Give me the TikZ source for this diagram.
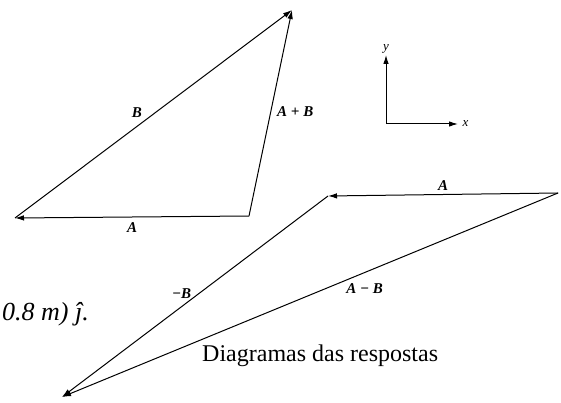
\documentclass[tikz,border=0pt]{standalone}
\usepackage{fontspec}
\setmainfont{Liberation Serif}
\usetikzlibrary{arrows.meta}

\begin{document}
\begin{tikzpicture}[
    x=1pt, y=-1pt,
    vec/.style={draw, line width=1pt, -{Latex[length=9pt, width=5.5pt]}},
    vlabel/.style={font=\fontsize{15}{17}\selectfont\bfseries\itshape, inner sep=2pt},
    axlabel/.style={font=\fontsize{13}{15}\selectfont\itshape, inner sep=1pt},
    caption/.style={font=\fontsize{24}{28}\selectfont, inner sep=0pt}
]
\useasboundingbox (0,0) rectangle (561,403);

% A + B
\coordinate (s0) at (249,216);
\coordinate (s1) at (15,218);
\coordinate (s2) at (292,10);
\draw[vec] (s0) -- (s1) node[vlabel, pos=0.5, below=3pt] {A};
\draw[vec] (s1) -- (s2) node[vlabel, pos=0.44, above=6pt] {B};
\draw[vec] (s0) -- (s2) node[vlabel, pos=0.505, right=4pt] {A + B};

% axes
\coordinate (o) at (386,124);
\coordinate (ytip) at (386,55);
\coordinate (xtip) at (458,124);
\draw[vec] (o) -- (ytip) node[axlabel, above] {y};
\draw[vec] (o) -- (xtip) node[axlabel, right=3pt] {x};

% A - B
\coordinate (d0) at (558,193);
\coordinate (d1) at (328,196);
\coordinate (d2) at (62,397);
\draw[vec] (d0) -- (d1) node[vlabel, pos=0.5, above=2pt] {A};
\draw[vec] (d1) -- (d2) node[vlabel, pos=0.55, above=6pt] {−B};
\draw[vec] (d0) -- (d2) node[vlabel, pos=0.39, below=9pt] {A − B};

% texts
\node[caption, anchor=base west, font=\fontsize{26}{30}\selectfont\itshape] (frag) at (2,320) {0.8 m) ĵ.};
\node[caption, anchor=base west] (cap) at (202,361) {Diagramas das respostas};
\end{tikzpicture}
\end{document}
